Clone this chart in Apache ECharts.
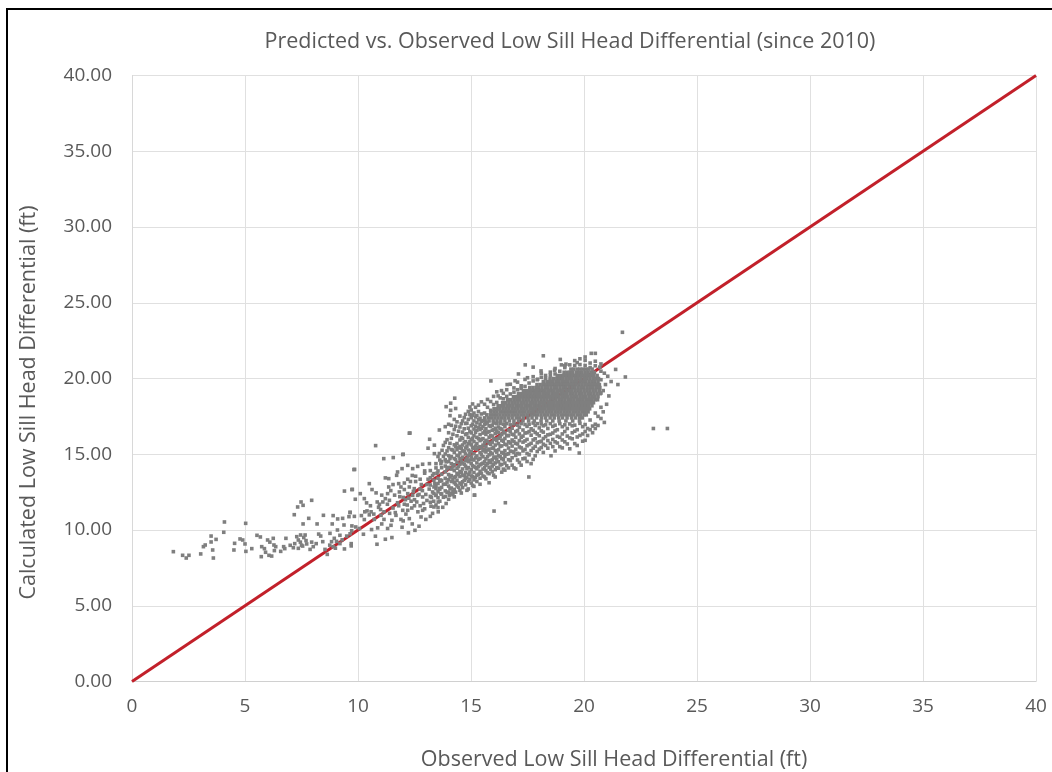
<!DOCTYPE html>
<html><head><meta charset="utf-8">
<style>html,body{margin:0;padding:0;background:#fff}#c{width:1052px;height:772px}</style>
<script src="https://cdn.jsdelivr.net/npm/echarts@6/dist/echarts.min.js"></script>
</head><body><div id="c"></div>
<script>
const titleText = 'Predicted vs. Observed Low Sill Head Differential (since 2010)';
const xName = 'Observed Low Sill Head Differential (ft)';
const yName = 'Calculated Low Sill Head Differential (ft)';
const parityLine = [[0,0],[40,40]];
// isolated points, flat x,y pairs
const lowTail = [1.83,8.57,2.24,8.33,2.4,8.15,2.52,8.33,3.04,8.42,3.16,8.9,3.24,9.01,3.5,9.6,3.5,9.21,3.72,9.38,3.57,8.68,3.6,8.15,4.06,9.85,4.09,10.53,4.51,8.68,4.54,9.12,4.78,9.41,5.03,10.44,4.9,9.34,5,9.08,5.04,8.59,5.3,8.77,5.53,9.65,5.68,9.54,5.74,8.9,5.72,8.24,5.86,8.77,5.91,8.53,6,9.34,6.06,8.33,6.18,8.28,6.25,9.45,6.28,9.01,6.36,8.9,6.3,8.64,6.1,9.2,6.58,8.59,6.71,8.9,6.76,8.77,6.81,9.45,7,8.99,7.14,8.83,7.18,11.01,7.33,11.52,7.48,11.85,7.57,11.63,7.95,11.96,7.57,10.4,7.82,10.77,7.29,9.56,7.36,9.34,7.46,9.67,7.66,9.67,7.36,8.79,7.55,8.94,7.73,9.08,7.88,8.72,8.02,8.9,8.19,10.4,8.47,10.97,8.26,9.73,8.35,9.6,8.44,9.23,8.64,8.39,8.54,8.72,8.76,9.78,8.86,10.4,8.9,10.95,8.83,9.23,8.95,9.45,9.09,10,9.1,10.73,9.32,10.77,9.38,10.33,9.4,12.57,9.75,12.68,9.85,14,9.65,11.17,9.6,10.88,7.45,9.2,7.6,9.5,7.2,9.1,7.5,9.0,7.7,9.3,7.95,9.2,8.15,9.1,8.75,9.0,8.9,8.9,9,8.8,9.2,9.1,9.3,9.35,9.5,9.6,9.65,9.75,9.05,9.25,9.72,9.95,9.9,10.2,9.4,8.75,9.7,8.95,9.2,9.65];
const midSparse = [10.78,15.57,12.27,16.39,11.14,14.71,11.56,14.78,11.98,14.98,13.17,15.99,13.6,16.6,13.1,15.4,13.38,15.6,13.6,15.05,13.72,15.26,13.38,15.04,12.42,14.05,12.64,14.2,12.86,14.34,13.16,14.38,13.45,14.38,13.67,14.38,13.9,14.5,12.2,14.27,11.95,14.05,11.75,13.83,11.71,13.61,9.82,13.99,11.21,13.44,11.36,13.39,10.5,13.06,10.62,12.67,10.8,12.45,9.73,12.67,9.88,12.03,10.1,12.4,10.28,12.07,10.38,11.79,11.21,12.07,11.36,12.84,11.31,12.4,11.39,11.96,11.8,13.06,11.9,12.84,12.05,12.67,12.27,12.84,12.49,12.73,11.83,12.51,12.2,12.4,12.42,12.29,12.64,12.29,12.86,12.18,13.3,12.51,13.45,12.73,13.67,12.4,14.04,12.3,15.15,12.3,9.65,11.15,9.84,10.9,10.28,10.69,10.4,11.26,10.58,11.2,10.91,11.5,11.02,10.97,11.5,10.64,11.68,10.97,11.98,11.3,12.2,11.3,12.27,10.75,12.79,10.86,12.86,11.3,12.95,11.4,13.23,11.57,13.45,11.65,9.73,10.27,10.06,10.1,10.24,9.72,10.6,10.03,10.87,10.14,10.77,9.59,11.21,9.39,11.5,9.5,10.84,9.06,11.31,10.1,11.46,10.31,11.95,10.18,12.23,9.81,12.52,9.98,9.7,9.1,10.15,10.95,10.5,11.0,10.72,10.7,11.15,11.2,11.3,11.7,11.55,11.45,11.75,11.8,11.1,11.85,12.05,11.7,12.35,11.9,12.5,11.6,12.65,11.2,12.1,12.0,12.75,12.7,12.55,13.2,12.2,13.35,12.4,13.6,12.75,13.35,12.95,13.75,13.05,13.0];
const nearLine = [10.3,11.2,10.55,11.6,10.7,11.05,10.85,11.85,11.0,11.35,11.05,12.3,11.15,10.7,11.4,11.1,11.45,12.6,11.55,13.0,11.62,12.3,11.65,11.15,11.8,11.6,11.85,12.2,11.9,10.7,12.0,12.15,12.05,13.1,12.12,11.05,12.18,11.65,12.25,12.1,12.32,13.2,12.38,11.45,12.45,12.55,12.5,12.0,12.55,13.55,12.6,11.85,12.7,12.35,12.75,11.6,12.8,13.0,12.85,12.6,12.9,11.75,12.95,13.9,13.0,12.35,13.05,11.95,13.1,13.35,13.15,12.7,13.2,10.9,13.25,12.15,13.3,13.6,13.35,11.9,13.4,13.05,13.45,12.3,13.5,13.75,13.55,11.85,13.6,12.75,13.65,13.3,11.05,10.4,10.95,11.7,12.0,10.6,12.4,10.4,12.7,10.25,13.0,10.7,13.3,11.1,13.55,11.2,13.75,11.5,13.9,11.75];
const outliers = [18.2,21.5,18.95,21.26,20.32,21.66,20.5,21.66,21.7,23.05,23.07,16.7,23.69,16.7,21.83,20.1,21.5,19.6,21.4,20.6,21.2,19.8,21.1,18.85,20.9,17.1,20.5,16.7,19.79,15.08,18.54,14.9,17.56,13.5,16.52,11.8,16.02,11.25,15.16,12.3,15.88,19.84,14.28,18.7,14.1,18.37,13.9,18.14,14.1,17.9,12.3,16.4,12,15,17.1,20.3,16.6,19.6,16.95,19.85,17.4,20.9,17.75,20.75,18.1,20.5,19.0,20.9,16.35,19.2,16.2,18.85,17.5,20.05,17.95,19.95,18.3,20.2,18.7,20.55,19.2,20.95,19.7,21.05,20.05,21.2,20.7,20.75,20.9,20.35,21.05,20.15,20.85,19.2,21.0,18.3,20.85,17.8,20.95,19.6];
// solid core of the cloud: one list of x per level of y
const coreY = [20.62,20.41,20.2,20.0,19.8,19.6,19.4,19.2,19.0,18.8,18.6,18.4,18.2,18.0,17.8,17.6,17.4,17.2];
const coreX = [
[19.42,19.55,19.7,19.82,19.95,20.08,20.2,20.36],
[19.12,19.25,19.38,19.5,19.66,19.8,19.91,20.05,20.18,20.32,20.46],
[18.82,18.97,19.1,19.24,19.36,19.5,19.63,19.76,19.9,20.02,20.15,20.3,20.43,20.58],
[18.5,18.66,18.8,18.92,19.06,19.2,19.33,19.46,19.6,19.72,19.86,20,20.12,20.26,20.4,20.52,20.64],
[18.2,18.36,18.48,18.62,18.76,18.88,19.02,19.15,19.28,19.42,19.55,19.68,19.82,19.95,20.08,20.22,20.35,20.48,20.62],
[17.92,18.06,18.2,18.33,18.46,18.6,18.73,18.86,19,19.13,19.26,19.39,19.52,19.65,19.78,19.91,20.04,20.17,20.3,20.43,20.56,20.68],
[17.6,17.74,17.88,18,18.14,18.28,18.4,18.54,18.68,18.8,18.94,19.08,19.2,19.34,19.48,19.6,19.74,19.88,20,20.14,20.28,20.4,20.54,20.7],
[17.32,17.46,17.6,17.73,17.86,18,18.13,18.26,18.4,18.53,18.66,18.8,18.93,19.06,19.2,19.33,19.46,19.6,19.73,19.86,20,20.13,20.26,20.4,20.53,20.68],
[17.1,17.24,17.38,17.5,17.64,17.78,17.9,18.04,18.18,18.3,18.44,18.58,18.7,18.84,18.98,19.1,19.24,19.38,19.5,19.64,19.78,19.9,20.04,20.18,20.3,20.44,20.58,20.72],
[16.88,17.02,17.15,17.28,17.42,17.55,17.68,17.82,17.95,18.08,18.22,18.35,18.48,18.62,18.75,18.88,19.02,19.15,19.28,19.42,19.55,19.68,19.82,19.95,20.08,20.22,20.35,20.48,20.62],
[16.62,16.76,16.9,17.03,17.16,17.3,17.43,17.56,17.7,17.83,17.96,18.1,18.23,18.36,18.5,18.63,18.76,18.9,19.03,19.16,19.3,19.43,19.56,19.7,19.83,19.96,20.1,20.23,20.36,20.5,20.6],
[16.4,16.54,16.68,16.82,16.95,17.08,17.22,17.35,17.48,17.62,17.75,17.88,18.02,18.15,18.28,18.42,18.55,18.68,18.82,18.95,19.08,19.22,19.35,19.48,19.62,19.75,19.88,20.02,20.15,20.28,20.42],
[16.2,16.34,16.46,16.6,16.73,16.86,17,17.13,17.26,17.4,17.53,17.66,17.8,17.93,18.06,18.2,18.33,18.46,18.6,18.73,18.86,19,19.13,19.26,19.4,19.53,19.66,19.8,19.93,20.06,20.2,20.35],
[16.02,16.15,16.28,16.42,16.55,16.68,16.82,16.95,17.08,17.22,17.35,17.48,17.62,17.75,17.88,18.02,18.15,18.28,18.42,18.55,18.68,18.82,18.95,19.08,19.22,19.35,19.48,19.62,19.75,19.88,20.02,20.15,20.25],
[15.88,16.02,16.15,16.3,16.44,16.58,16.7,16.84,16.98,17.12,17.25,17.38,17.52,17.65,17.78,17.92,18.05,18.18,18.32,18.45,18.58,18.72,18.85,18.98,19.12,19.25,19.38,19.52,19.65,19.78,19.92,20.05,20.18],
[15.7,15.86,16,16.14,16.28,16.42,16.55,16.68,16.82,16.95,17.08,17.22,17.35,17.5,17.66,17.8,17.95,18.1,18.25,18.4,18.55,18.7,18.85,19,19.15,19.28,19.42,19.55,19.7,19.85,20,20.1],
[15.6,15.76,15.92,16.06,16.2,16.36,16.5,16.66,16.82,17,17.15,17.32,17.52,17.7,17.9,18.12,18.3,18.5,18.68,18.88,19.05,19.25,19.45,19.62,19.8,19.92],
[15.62,15.8,15.98,16.15,16.32,16.5,16.7,16.9,17.1,17.3,17.55,17.8,18.1,18.35,18.62,18.9,19.2,19.5,19.8]
];
// looser part of the band: one list of y per column of x
const bandX = [13.2,13.36,13.54,13.7,13.86,14.01,14.13,14.26,14.38,14.51,14.63,14.76,14.88,15.01,15.13,15.26,15.4,15.53,15.66,15.8,15.94,16.07,16.22,16.36,16.5,16.66,16.82,16.98,17.14,17.3,17.48,17.66,17.84,18.02,18.2,18.4,18.62,18.82,19.04,19.26,19.48,19.7,19.94,20.16,20.38,20.62];
const bandY = [
[13.92,13.45,12.97,12.22,11.83],
[13.72,13.28,12.84,12.41,11.52],
[14.85,13.9,13.41,13.07,12.52,12.13,11.48],
[14.52,14.11,13.68,13.26,12.81,12.37],
[16.82,15.78,15.02,14.63,14.22,13.84,13.41,13.02,12.58,12.21],
[16.98,16.42,15.43,14.91,14.52,14.13,13.66,13.32,12.9,12.5,12.03],
[16.91,16.05,15.31,14.84,14.38,14.02,13.59,13.2,12.77,12.41],
[17.3,16.63,15.62,15.12,14.72,14.31,13.92,13.48,13.12,12.68,12.19],
[17.14,16.22,15.71,15.3,14.93,14.47,14.08,13.74,13.28,12.91],
[17.52,16.8,15.94,15.52,15.09,14.7,14.34,13.87,13.53,13.1,12.62],
[17.2,16.46,16.03,15.61,15.22,14.81,14.42,14.03,13.62,13.18,12.8],
[17.64,17.03,16.3,15.83,15.41,15.02,14.58,14.22,13.78,13.4,12.98],
[17.83,17.3,16.72,16.11,15.7,15.28,14.92,14.51,14.12,13.68,13.22,12.71],
[17.92,17.41,16.88,16.41,15.98,15.62,15.2,14.82,14.38,14.0,13.57,13.1],
[17.72,17.2,16.66,16.22,15.83,15.4,15.03,14.62,14.18,13.8,13.31,12.88],
[17.55,17.08,16.58,16.12,15.71,15.33,14.89,14.43,14.04,13.62,13.2],
[17.38,16.98,16.63,16.3,15.9,15.5,15.11,14.72,14.3,13.88,13.42,13.02],
[17.22,16.82,16.4,16.03,15.6,15.22,14.83,14.41,14.02,13.56],
[17.02,16.68,16.31,15.92,15.52,15.15,14.7,14.28,13.91,13.38],
[16.88,16.5,16.12,15.74,15.34,14.96,14.58,14.14,13.72,13.12],
[16.92,16.58,16.2,15.8,15.4,15.02,14.63,14.22,13.84],
[16.72,16.36,16.0,15.61,15.24,14.82,14.43,13.98,13.5],
[16.8,16.44,16.06,15.7,15.3,14.91,14.5,14.08],
[16.66,16.3,15.93,15.55,15.12,14.72,14.33,13.82],
[16.82,16.41,16.04,15.66,15.24,14.86,14.42,13.95],
[16.6,16.22,15.82,15.41,15.03,14.64,14.1],
[16.72,16.32,15.94,15.54,15.18,14.77,14.28],
[16.5,16.12,15.72,15.33,14.92,14.03],
[16.78,16.34,15.9,15.48,15.02,14.46],
[16.6,16.2,15.8,15.22,14.7],
[16.84,16.42,15.98,15.56,15.05,14.52],
[16.68,16.26,15.72,15.24,14.38],
[16.9,16.44,16.02,15.52,14.9],
[16.74,16.22,15.82,15.34],
[16.88,16.46,16.04,15.66,15.12],
[16.7,16.28,15.9,15.4],
[16.84,16.4,15.98,15.5],
[16.62,16.18,15.74],
[16.82,16.34,15.94,15.42],
[16.7,16.2,15.68],
[16.88,16.42,16.02],
[16.62,16.14,15.58],
[16.82,16.34,15.86],
[16.7,16.24],
[16.86,16.42],
[17.5,16.9]
];
// further points that break up the band: one list of y per column of x
const fillX = [13.45,13.62,13.78,13.94,14.07,14.2,14.32,14.45,14.57,14.7,14.82,14.95,15.07,15.2,15.33,15.46,15.6,15.73,15.87,16.0,16.14,16.29,16.43,16.58,16.74,16.9,17.06,17.22,17.39,17.57,17.75,17.93,18.11,18.3,18.51,18.72,18.93,19.15,19.37,19.59,19.82,20.05,20.27,20.5,20.75];
const fillY = [
[14.1,12.95,12.28],
[14.62,13.22,12.7,11.9],
[15.58,14.86,13.02,12.16],
[15.96,15.22,14.03,13.16,12.48],
[17.55,15.72,14.72,13.5,12.72],
[16.32,15.28,14.16,13.35,12.52,12.33],
[18.02,16.85,15.52,14.65,13.52,13.03,12.5],
[16.52,15.42,14.9,14.18,13.66,12.82],
[17.02,16.1,15.38,14.55,13.81,13.02,12.44],
[17.42,16.68,15.76,15.18,14.34,13.58,13.28],
[17.05,16.35,15.53,14.72,14.04,13.48,12.62],
[18.12,17.62,16.5,15.82,15.05,14.62,13.82,13.34],
[18.32,17.58,16.98,16.05,15.45,14.66,14.25,13.52,12.95],
[18.1,17.46,16.85,16.44,15.54,14.76,14.12,13.46],
[18.24,17.82,17.28,16.76,16.02,15.46,14.66,14.18,13.68],
[18.46,17.66,17.18,16.72,15.98,15.42,14.97,14.36,13.75],
[18.3,17.72,16.96,16.52,15.76,15.31,14.52,14.12,13.5],
[18.62,18.1,17.12,16.46,15.86,15.28,14.84,14.38,13.78],
[18.48,17.9,16.84,16.24,15.66,15.12,14.46,14.02],
[18.82,18.28,17.06,16.62,15.98,15.44,14.76,14.34,13.62],
[19.12,18.42,17.02,16.54,15.9,15.14,14.68,14.12],
[18.72,17.05,16.7,16.16,15.52,14.84,14.3],
[19.02,18.66,16.98,16.52,15.86,15.06,14.64,14.02],
[19.26,18.82,17.02,16.24,15.62,15.0,14.24],
[19.62,18.98,16.94,16.48,15.74,15.2,14.58],
[19.38,19.1,17.0,16.28,15.84,15.12,14.1],
[19.76,19.26,16.92,16.56,15.68,15.06,14.62],
[19.52,19.34,17.02,16.12,15.42,14.28],
[19.94,19.48,16.96,16.4,15.88,15.32,14.74],
[19.7,16.98,16.5,15.64,14.96],
[20.12,19.84,17.06,16.58,15.94,15.4,14.66],
[19.92,17.02,16.34,15.76,15.18],
[20.34,20.08,17.0,16.54,15.86,15.44],
[20.02,16.94,16.16,15.58],
[20.42,20.22,17.02,16.32,15.72],
[20.66,20.3,16.92,16.54,15.82,15.22],
[20.48,17.02,16.12,15.5],
[20.84,20.72,16.94,16.5,15.82],
[20.9,17.0,16.08,15.36],
[21.18,20.86,16.92,16.52,15.7],
[21.3,20.92,17.04,16.24],
[21.42,20.86,16.96,16.5,15.92],
[21.02,20.72,17.26,16.62],
[21.14,20.84,17.72,16.98],
[20.96,20.48,19.92,19.04,18.1,17.36]
];
const pairs = a => { const out = []; for (let i = 0; i < a.length; i += 2) out.push([a[i], a[i+1]]); return out; };
const byRow = (keys, lists, make) => { const out = []; keys.forEach((k, i) => lists[i].forEach(v => out.push(make(k, v)))); return out; };
const core = byRow(coreY, coreX, (y, x) => [x, y]);
const band = byRow(bandX, bandY, (x, y) => [x, y]);
const fill = byRow(fillX, fillY, (x, y) => [x, y]);
const scatterData = pairs(lowTail).concat(pairs(midSparse), pairs(nearLine), pairs(outliers), band, fill, core);

const textColor = '#595959', gridColor = '#e0e0e0', fontFamily = '"Open Sans"';
const chart = echarts.init(document.getElementById('c'), null, {renderer:'canvas'});
chart.setOption({
  animation:false,
  backgroundColor:'#fff',
  title:{text:titleText,left:565,top:26,textAlign:'center',textStyle:{color:textColor,fontFamily,fontSize:21.5,fontWeight:'normal'}},
  grid:{left:132,right:16,top:75.5,bottom:90.5,containLabel:false,outerBoundsMode:'none'},
  xAxis:{type:'value',min:0,max:40,interval:5,name:xName,nameLocation:'middle',nameGap:67,
    nameTextStyle:{color:textColor,fontFamily,fontSize:21.5,padding:[0,0,0,60]},
    axisLine:{show:true,onZero:false,lineStyle:{color:'#d0d0d0',width:1}},axisTick:{show:false},
    axisLabel:{color:textColor,fontFamily,fontSize:19,margin:16},
    splitLine:{show:true,lineStyle:{color:gridColor,width:1}}},
  yAxis:{type:'value',min:0,max:40,interval:5,name:yName,nameLocation:'middle',nameGap:92,nameRotate:90,
    nameTextStyle:{color:textColor,fontFamily,fontSize:21.5,padding:[0,48,0,0]},
    axisLine:{show:true,onZero:false,lineStyle:{color:'#d8d8d8',width:1}},axisTick:{show:false},
    axisLabel:{color:textColor,fontFamily,fontSize:19,margin:20,formatter:v=>v.toFixed(2)},
    splitLine:{show:true,lineStyle:{color:gridColor,width:1}}},
  series:[
    {type:'line',data:parityLine,symbol:'none',clip:false,lineStyle:{color:'#c2202a',width:3},z:2},
    {type:'scatter',data:scatterData,symbol:'rect',symbolSize:3.6,itemStyle:{color:'#7f7f7f',opacity:1},z:3,large:false}
  ],
  graphic:[
    {type:'rect',shape:{x:6,y:8,width:1046,height:2},style:{fill:'#000'},z:10},
    {type:'rect',shape:{x:6,y:8,width:2,height:764},style:{fill:'#000'},z:10}
  ]
});
</script></body></html>
